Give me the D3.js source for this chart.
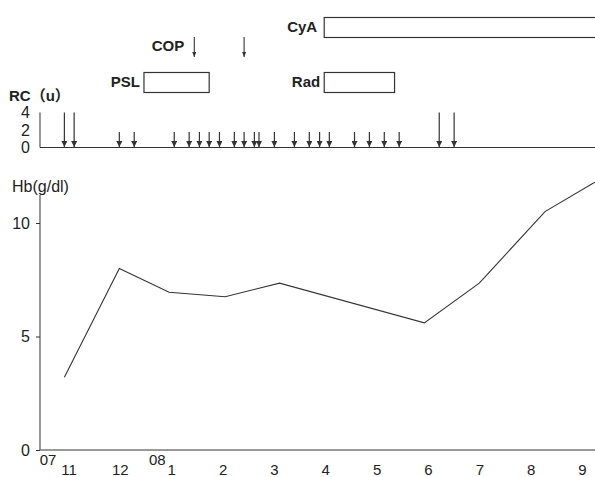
<!DOCTYPE html>
<html>
<head>
<meta charset="utf-8">
<script src="https://cdn.jsdelivr.net/npm/d3@7"></script>
<style>
  body { margin: 0; background: #fff; }
  svg { display: block; font-family: "Liberation Sans", Arial, "Noto Sans CJK JP", sans-serif; }
</style>
</head>
<body>
<svg id="chart" width="595" height="477"></svg>
<script>
// month index: 0 = Nov 2007, 2 = Jan 2008 ... 10 = Sep 2008
var monthLabels = ["11", "12", "1", "2", "3", "4", "5", "6", "7", "8", "9"];
var yearLabels = [{ text: "07", at: -0.57 }, { text: "08", at: 2 }];

// Hb (g/dl)
var hbTime  = [-0.09, 0.98, 1.95, 3.04, 4.1, 6.92, 7.99, 9.27, 10.24];
var hbValue = [3.2, 8.0, 6.95, 6.75, 7.35, 5.6, 7.35, 10.5, 11.8];

// red cell transfusions (units)
var rcTime  = [-0.09, 0.1, 0.98, 1.27, 2.05, 2.34, 2.54, 2.73, 2.93, 3.22, 3.41, 3.61, 3.7, 4.0,
               4.39, 4.68, 4.88, 5.07, 5.56, 5.85, 6.14, 6.43, 7.21, 7.5];
var rcUnits = [4, 4, 2, 2, 2, 2, 2, 2, 2, 2, 2, 2, 2, 2, 2, 2, 2, 2, 2, 2, 2, 2, 4, 4];

// treatments
var boxNames = ["CyA", "PSL", "Rad"];
var boxStart = [4.97, 1.46, 4.97];
var boxEnd   = [10.4, 2.73, 6.34];
var copTime  = [2.44, 3.41];

var svg = d3.select("#chart");
var ink = "#333";

var x = d3.scaleLinear().domain([0, 10]).range([69, 582.5]);
var yHb = d3.scaleLinear().domain([0, 10]).range([450, 223]);
var yRC = d3.scaleLinear().domain([0, 4]).range([147.5, 112.5]);

var x0 = x(-0.565), x1 = 595;

// arrow heads (pointing down, fixed orientation)
var defs = svg.append("defs");
defs.append("marker")
    .attr("id", "head")
    .attr("viewBox", "0 0 6 6")
    .attr("refX", 3).attr("refY", 6)
    .attr("markerWidth", 6).attr("markerHeight", 6)
    .attr("markerUnits", "userSpaceOnUse")
    .append("path")
    .attr("d", "M0,0L6,0L3,6Z")
    .attr("fill", ink);

defs.append("marker")
    .attr("id", "thin")
    .attr("viewBox", "0 0 4 5")
    .attr("refX", 2).attr("refY", 5)
    .attr("markerWidth", 4).attr("markerHeight", 5)
    .attr("markerUnits", "userSpaceOnUse")
    .append("path")
    .attr("d", "M0,0L4,0L2,5Z")
    .attr("fill", ink);

// ---- Hb panel
var hbAxis = svg.append("g")
    .attr("transform", "translate(" + x0 + ",0)")
    .call(d3.axisLeft(yHb).tickValues([0, 5, 10]).tickSize(4).tickSizeOuter(0).tickPadding(6));
hbAxis.select(".domain").remove();
hbAxis.selectAll("line").attr("stroke", ink);
hbAxis.selectAll("text").attr("font-size", 16).attr("fill", "#222")
    .attr("font-family", "Liberation Sans, Arial, sans-serif");

svg.append("line")
    .attr("x1", x0).attr("x2", x0)
    .attr("y1", 195).attr("y2", yHb(0))
    .attr("stroke", ink);

svg.append("line")
    .attr("x1", x0).attr("x2", x1)
    .attr("y1", yHb(0)).attr("y2", yHb(0))
    .attr("stroke", "#777").attr("stroke-width", 1.5);

svg.append("text")
    .attr("x", 12).attr("y", 192)
    .attr("font-size", 16).attr("fill", "#222")
    .text("Hb(g/dl)");

var line = d3.line()
    .x(function (d, i) { return x(hbTime[i]); })
    .y(function (d) { return yHb(d); });

svg.append("path")
    .datum(hbValue)
    .attr("d", line)
    .attr("fill", "none")
    .attr("stroke", ink)
    .attr("stroke-width", 1.1);

// month labels
svg.selectAll(".month")
    .data(monthLabels)
    .enter().append("text")
    .attr("class", "month")
    .attr("x", function (d, i) { return x(i); })
    .attr("y", 475)
    .attr("text-anchor", "middle")
    .attr("font-size", 15).attr("fill", "#222")
    .text(function (d) { return d; });

svg.selectAll(".year")
    .data(yearLabels)
    .enter().append("text")
    .attr("class", "year")
    .attr("x", function (d, i) { return i === 0 ? x(d.at) : x(d.at) - 6; })
    .attr("y", 465)
    .attr("text-anchor", function (d, i) { return i === 0 ? "start" : "end"; })
    .attr("font-size", 15).attr("fill", "#222")
    .text(function (d) { return d.text; });

// ---- RC panel
var rcAxis = svg.append("g")
    .attr("transform", "translate(" + x0 + ",0)")
    .call(d3.axisLeft(yRC).tickValues([0, 2, 4]).tickFormat(d3.format("d")).tickSize(0).tickPadding(10));
rcAxis.select(".domain").remove();
rcAxis.selectAll("text").attr("font-size", 16).attr("fill", "#222")
    .attr("font-family", "Liberation Sans, Arial, sans-serif");

svg.append("line")
    .attr("x1", x0).attr("x2", x0)
    .attr("y1", yRC(4)).attr("y2", yRC(0))
    .attr("stroke", ink);
svg.append("line")
    .attr("x1", x0).attr("x2", x1)
    .attr("y1", yRC(0)).attr("y2", yRC(0))
    .attr("stroke", ink).attr("stroke-width", 1.2);

svg.append("text")
    .attr("x", 9).attr("y", 101)
    .attr("font-size", 15).attr("font-weight", "bold").attr("fill", "#222")
    .text("RC（u）");

svg.selectAll(".rc")
    .data(rcUnits)
    .enter().append("line")
    .attr("class", "rc")
    .attr("x1", function (d, i) { return x(rcTime[i]); })
    .attr("x2", function (d, i) { return x(rcTime[i]); })
    .attr("y1", function (d) { return yRC(d) + (d === 2 ? 2 : 0); })
    .attr("y2", yRC(0) - 0.5)
    .attr("stroke", ink).attr("stroke-width", 1.2)
    .attr("marker-end", "url(#head)");

// ---- treatments
svg.selectAll(".box")
    .data(boxNames)
    .enter().append("rect")
    .attr("class", "box")
    .attr("x", function (d, i) { return x(boxStart[i]); })
    .attr("y", function (d, i) { return i === 0 ? 17.5 : 72.5; })
    .attr("width", function (d, i) { return x(boxEnd[i]) - x(boxStart[i]); })
    .attr("height", 20)
    .attr("fill", "none").attr("stroke", ink).attr("stroke-width", 1.2);

svg.selectAll(".boxLabel")
    .data(boxNames)
    .enter().append("text")
    .attr("class", "boxLabel")
    .attr("x", function (d, i) { return x(boxStart[i]) - (i === 0 ? 7 : 4); })
    .attr("y", function (d, i) { return i === 0 ? 32 : 87; })
    .attr("text-anchor", "end")
    .attr("font-size", 15).attr("font-weight", "bold").attr("fill", "#222")
    .text(function (d) { return d; });

svg.selectAll(".cop")
    .data(copTime)
    .enter().append("line")
    .attr("class", "cop")
    .attr("x1", function (d) { return x(d); })
    .attr("x2", function (d) { return x(d); })
    .attr("y1", 37).attr("y2", 57)
    .attr("stroke", ink).attr("stroke-width", 1.1)
    .attr("marker-end", "url(#thin)");

svg.append("text")
    .attr("x", x(copTime[0]) - 10).attr("y", 51)
    .attr("text-anchor", "end")
    .attr("font-size", 15).attr("font-weight", "bold").attr("fill", "#222")
    .text("COP");
</script>
</body>
</html>
